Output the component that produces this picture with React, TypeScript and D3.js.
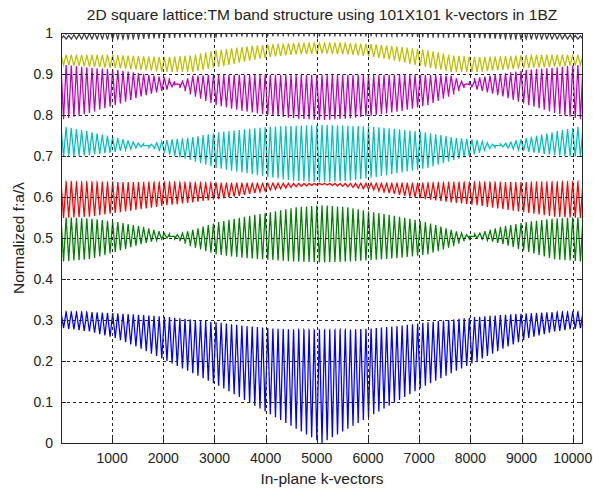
import React from "react";
import * as d3 from "d3";

// sampled rows (0..50, mirrored for 50..100)
const ROWS = [0, 5, 10, 15, 20, 25, 30, 35, 40, 45, 50];

// value at row edge (ky = ±π) and row center (ky = 0) for each band
const band1Edge = [0.32, 0.319, 0.316, 0.312, 0.307, 0.3, 0.293, 0.285, 0.279, 0.276, 0.275];
const band1Center = [0.28, 0.272, 0.256, 0.23, 0.2, 0.17, 0.14, 0.105, 0.07, 0.035, 0.0];
const band2Edge = [0.55, 0.547, 0.539, 0.527, 0.51, 0.48, 0.46, 0.452, 0.447, 0.443, 0.441];
const band2Center = [0.443, 0.448, 0.466, 0.485, 0.5, 0.52, 0.539, 0.552, 0.563, 0.575, 0.58];
const band3Edge = [0.637, 0.636, 0.635, 0.635, 0.636, 0.635, 0.634, 0.634, 0.634, 0.633, 0.633];
const band3Center = [0.549, 0.552, 0.561, 0.57, 0.58, 0.587, 0.595, 0.605, 0.617, 0.625, 0.63];
const band4Edge = [0.771, 0.758, 0.744, 0.73, 0.707, 0.69, 0.671, 0.66, 0.649, 0.64, 0.636];
const band4Center = [0.698, 0.702, 0.71, 0.722, 0.739, 0.746, 0.758, 0.765, 0.771, 0.774, 0.776];
const band5Edge = [0.922, 0.915, 0.91, 0.9, 0.89, 0.85, 0.824, 0.81, 0.8, 0.792, 0.788];
const band5Center = [0.79, 0.805, 0.824, 0.845, 0.862, 0.896, 0.898, 0.898, 0.898, 0.898, 0.898];
const band6Edge = [0.946, 0.946, 0.946, 0.943, 0.941, 0.945, 0.958, 0.966, 0.972, 0.975, 0.976];
const band6Center = [0.922, 0.918, 0.915, 0.91, 0.905, 0.905, 0.917, 0.93, 0.942, 0.948, 0.95];
const band7Edge = [0.985, 0.985, 0.985, 0.986, 0.988, 0.99, 0.99, 0.992, 0.993, 0.993, 0.993];
const band7Center = [0.993, 1.0, 1.01, 1.02, 1.03, 1.04, 1.04, 1.04, 1.04, 1.04, 1.04];
const band8Edge = [0.996, 1.0, 1.02, 1.05, 1.08, 1.1, 1.1, 1.1, 1.1, 1.1, 1.1];
const band8Center = [1.03, 1.04, 1.06, 1.08, 1.1, 1.12, 1.12, 1.12, 1.12, 1.12, 1.12];

const BAND_EDGES = [band1Edge, band2Edge, band3Edge, band4Edge, band5Edge, band6Edge, band7Edge, band8Edge];
const BAND_CENTERS = [band1Center, band2Center, band3Center, band4Center, band5Center, band6Center, band7Center, band8Center];
const BAND_COLORS = ["#0000ff", "#008000", "#ff0000", "#00bfbf", "#bf00bf", "#bfbf00", "#404040", "#0000ff"];

const X_TICKS = [1000, 2000, 3000, 4000, 5000, 6000, 7000, 8000, 9000, 10000];
const Y_TICKS = [0, 0.1, 0.2, 0.3, 0.4, 0.5, 0.6, 0.7, 0.8, 0.9, 1];
const N_SIDE = 101;

const W = 593, H = 489;
const M = { left: 61, right: 583, top: 33, bottom: 443 };

export default function App() {
  const x = d3.scaleLinear().domain([1, N_SIDE * N_SIDE]).range([M.left, M.right]);
  const y = d3.scaleLinear().domain([0, 1]).range([M.bottom, M.top]);
  const line = d3.line<[number, number]>().x((d) => x(d[0])).y((d) => y(d[1]));

  const paths = BAND_EDGES.map((edge, b) => {
    const eS = d3.scaleLinear().domain(ROWS).range(edge);
    const cS = d3.scaleLinear().domain(ROWS).range(BAND_CENTERS[b]);
    const pts: [number, number][] = [];
    for (let ix = 0; ix < N_SIDE; ix++) {
      const r = ix <= 50 ? ix : 100 - ix;
      const base = ix * N_SIDE;
      pts.push([base + 1, eS(r)]);
      pts.push([base + 51, cS(r)]);
      pts.push([base + 101, eS(r)]);
    }
    return line(pts) as string;
  });

  const font = "Liberation Sans, Arial, Helvetica, sans-serif";
  const axisColor = "#262626";
  return (
    <svg width={W} height={H} style={{ position: "absolute", left: 0, top: 0, background: "#fff" }}>
      <defs>
        <clipPath id="plotclip">
          <rect x={M.left} y={M.top} width={M.right - M.left} height={M.bottom - M.top} />
        </clipPath>
      </defs>
      <rect x={0} y={0} width={W} height={H} fill="#fff" />
      <g clipPath="url(#plotclip)">
        {paths.map((d, i) => (
          <path key={i} d={d} fill="none" stroke={BAND_COLORS[i]} strokeWidth={1.25} />
        ))}
      </g>
      {/* grid */}
      <g stroke={axisColor} strokeWidth={1} strokeDasharray="3,3" shapeRendering="crispEdges">
        {X_TICKS.map((t) => (
          <line key={"gx" + t} x1={Math.round(x(t)) + 0.5} x2={Math.round(x(t)) + 0.5} y1={M.top} y2={M.bottom} />
        ))}
        {Y_TICKS.filter((t) => t > 0 && t < 1).map((t) => (
          <line key={"gy" + t} x1={M.left} x2={M.right} y1={Math.round(y(t)) + 0.5} y2={Math.round(y(t)) + 0.5} />
        ))}
      </g>
      {/* box */}
      <rect x={M.left + 0.5} y={M.top + 0.5} width={M.right - M.left - 1} height={M.bottom - M.top} fill="none" stroke={axisColor} strokeWidth={1} shapeRendering="crispEdges" />
      {/* ticks */}
      <g stroke={axisColor} strokeWidth={1} shapeRendering="crispEdges">
        {X_TICKS.map((t) => (
          <g key={"tx" + t}>
            <line x1={Math.round(x(t)) + 0.5} x2={Math.round(x(t)) + 0.5} y1={M.bottom} y2={M.bottom - 5} />
            <line x1={Math.round(x(t)) + 0.5} x2={Math.round(x(t)) + 0.5} y1={M.top} y2={M.top + 5} />
          </g>
        ))}
        {Y_TICKS.map((t) => (
          <g key={"ty" + t}>
            <line x1={M.left} x2={M.left + 5} y1={Math.round(y(t)) + 0.5} y2={Math.round(y(t)) + 0.5} />
            <line x1={M.right - 5} x2={M.right} y1={Math.round(y(t)) + 0.5} y2={Math.round(y(t)) + 0.5} />
          </g>
        ))}
      </g>
      <g fontFamily={font} fill="#222">
        <g fontSize={14}>
          {X_TICKS.map((t) => (
            <text key={"lx" + t} x={x(t)} y={M.bottom + 20} textAnchor="middle">{t}</text>
          ))}
          {Y_TICKS.map((t) => (
            <text key={"ly" + t} x={M.left - 8} y={y(t) + 5} textAnchor="end">{String(t)}</text>
          ))}
        </g>
        <g fontSize={15.5}>
          <text x={(M.left + M.right) / 2} y={20} textAnchor="middle">2D square lattice:TM band structure using 101X101 k-vectors in 1BZ</text>
          <text x={(M.left + M.right) / 2} y={484} textAnchor="middle">In-plane k-vectors</text>
          <text transform={`translate(24,${(M.top + M.bottom) / 2}) rotate(-90)`} textAnchor="middle">Normalized f:a/λ</text>
        </g>
      </g>
    </svg>
  );
}
